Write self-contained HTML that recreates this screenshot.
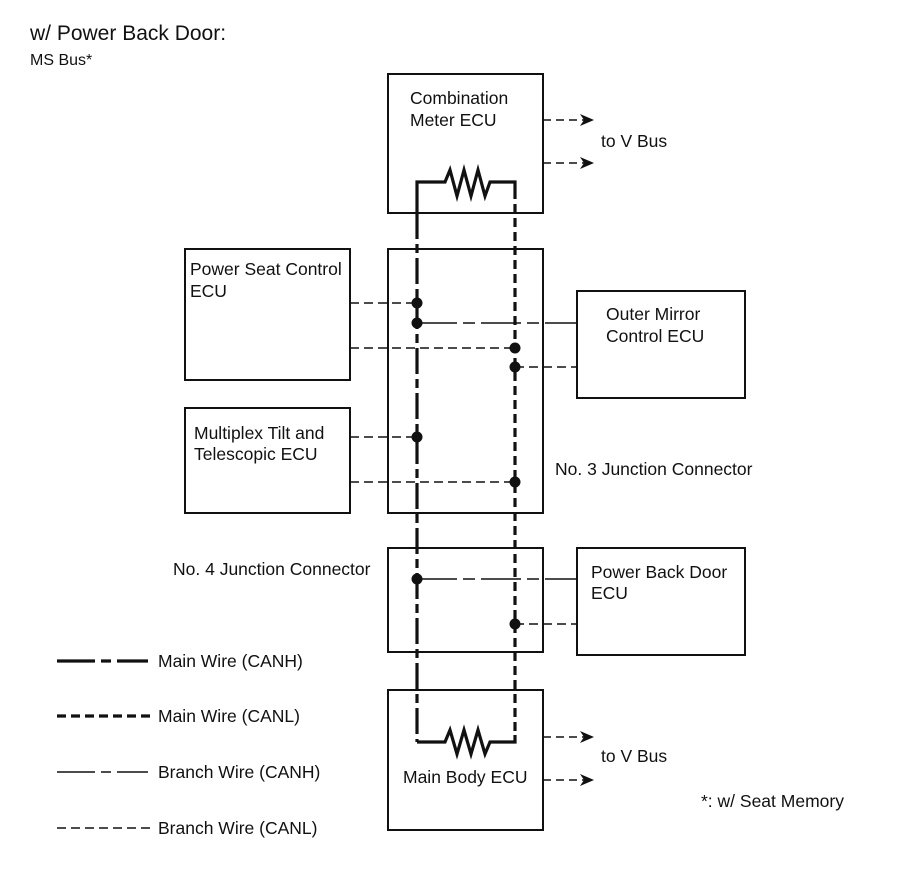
<!DOCTYPE html>
<html><head><meta charset="utf-8"><style>
html,body{margin:0;padding:0;background:#fff;}
svg text{font-family:"Liberation Sans",Arial,sans-serif;fill:#111;}
</style></head><body>
<svg width="907" height="866" viewBox="0 0 907 866" xmlns="http://www.w3.org/2000/svg">
<defs>
<marker id="ar" markerWidth="14" markerHeight="12" refX="13" refY="6" orient="auto" markerUnits="userSpaceOnUse">
<path d="M0,0 L14,6 L0,12 L4,6 Z" fill="#111"/>
</marker>
</defs>
<text x="30" y="40" font-size="21">w/ Power Back Door:</text>
<text x="30" y="65" font-size="16">MS Bus*</text>
<g fill="none" stroke="#111" stroke-width="2">
<rect x="388" y="74" width="155" height="139"/>
<rect x="388" y="249" width="155" height="264"/>
<rect x="388" y="548" width="155" height="104"/>
<rect x="388" y="690" width="155" height="140"/>
<rect x="185" y="249" width="165" height="131"/>
<rect x="185" y="408" width="165" height="105"/>
<rect x="577" y="291" width="168" height="107"/>
<rect x="577" y="548" width="168" height="107"/>
</g>
<g fill="none" stroke="#111" stroke-width="3.2">
<path d="M417,213 L417,182 L445,182 L450,170 L457,196 L464,170 L471,196 L478,170 L485,196 L490,182 L515,182 L515,190"/>
<path d="M417,742 L445,742 L450,730 L457,754 L464,730 L471,754 L478,730 L485,754 L490,742 L515,742 L515,735"/>
<line x1="417" y1="213" x2="417" y2="742" stroke-dasharray="26 5 9 5"/>
<line x1="515" y1="190" x2="515" y2="735" stroke-dasharray="9 5"/>
</g>
<g fill="none" stroke="#111" stroke-width="1.6">
<line x1="350" y1="303" x2="417" y2="303" stroke-dasharray="9 5"/>
<line x1="417" y1="323" x2="577" y2="323" stroke-dasharray="40 6 12 6"/>
<line x1="350" y1="348" x2="515" y2="348" stroke-dasharray="9 5"/>
<line x1="515" y1="367" x2="577" y2="367" stroke-dasharray="9 5"/>
<line x1="350" y1="437" x2="417" y2="437" stroke-dasharray="9 5"/>
<line x1="350" y1="482" x2="515" y2="482" stroke-dasharray="9 5"/>
<line x1="417" y1="579" x2="577" y2="579" stroke-dasharray="40 6 12 6"/>
<line x1="515" y1="624" x2="577" y2="624" stroke-dasharray="9 5"/>
<line x1="543" y1="120" x2="593" y2="120" stroke-dasharray="8 5" marker-end="url(#ar)"/>
<line x1="543" y1="163" x2="593" y2="163" stroke-dasharray="8 5" marker-end="url(#ar)"/>
<line x1="543" y1="737" x2="593" y2="737" stroke-dasharray="8 5" marker-end="url(#ar)"/>
<line x1="543" y1="780" x2="593" y2="780" stroke-dasharray="8 5" marker-end="url(#ar)"/>
</g>
<g fill="#111">
<circle cx="417" cy="303" r="5.5"/><circle cx="417" cy="323" r="5.5"/>
<circle cx="515" cy="348" r="5.5"/><circle cx="515" cy="367" r="5.5"/>
<circle cx="417" cy="437" r="5.5"/><circle cx="515" cy="482" r="5.5"/>
<circle cx="417" cy="579" r="5.5"/><circle cx="515" cy="624" r="5.5"/>
</g>
<g fill="none" stroke="#111">
<line x1="57" y1="661" x2="148" y2="661" stroke-width="3.2" stroke-dasharray="38 6 10 6"/>
<line x1="57" y1="716" x2="150" y2="716" stroke-width="3.2" stroke-dasharray="9 5"/>
<line x1="57" y1="772" x2="148" y2="772" stroke-width="1.6" stroke-dasharray="38 6 10 6"/>
<line x1="57" y1="828" x2="150" y2="828" stroke-width="1.6" stroke-dasharray="9 5"/>
</g>
<g font-size="17.5">
<text x="158" y="667">Main Wire (CANH)</text>
<text x="158" y="722">Main Wire (CANL)</text>
<text x="158" y="778">Branch Wire (CANH)</text>
<text x="158" y="834">Branch Wire (CANL)</text>
<text x="410" y="104">Combination</text>
<text x="410" y="126">Meter ECU</text>
<text x="601" y="147">to V Bus</text>
<text x="190" y="275">Power Seat Control</text>
<text x="190" y="297">ECU</text>
<text x="606" y="320">Outer Mirror</text>
<text x="606" y="342">Control ECU</text>
<text x="194" y="439">Multiplex Tilt and</text>
<text x="194" y="460">Telescopic ECU</text>
<text x="555" y="475">No. 3 Junction Connector</text>
<text x="173" y="575">No. 4 Junction Connector</text>
<text x="591" y="578">Power Back Door</text>
<text x="591" y="599">ECU</text>
<text x="601" y="762">to V Bus</text>
<text x="403" y="783">Main Body ECU</text>
<text x="701" y="807">*: w/ Seat Memory</text>
</g>
</svg>
</body></html>
